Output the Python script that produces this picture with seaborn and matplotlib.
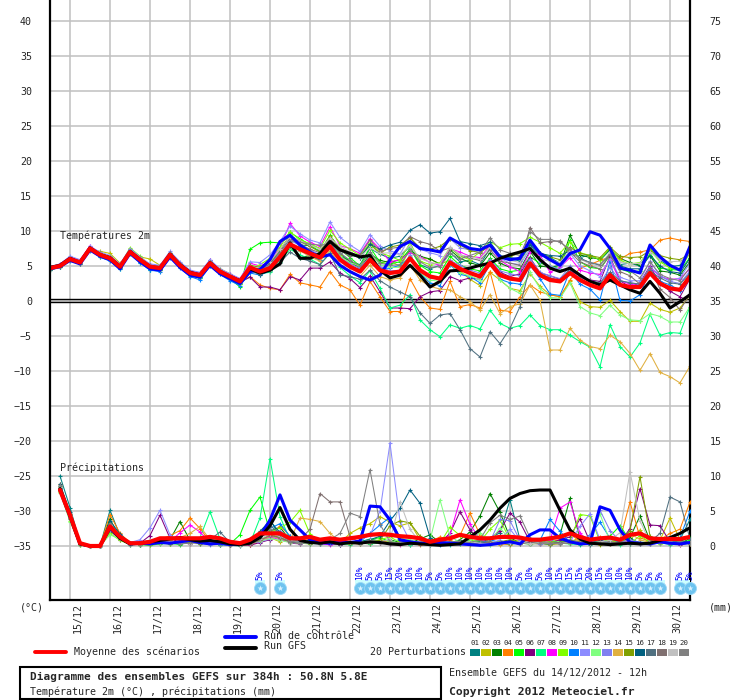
import numpy as np
import pandas as pd
import matplotlib
matplotlib.use("Agg")
import matplotlib.pyplot as plt
import seaborn as sns
from matplotlib.lines import Line2D
from matplotlib.patches import Rectangle
from matplotlib.transforms import ScaledTranslation

# ---------------- DATA ----------------
hours = list(range(0, 385, 6))          # forecast hours, 6-hourly (65 steps)
precip_hours = hours[1:]                 # accumulations valid at +6h ... +384h

day_hours = list(range(12, 373, 24))
day_labels = ['15/12', '16/12', '17/12', '18/12', '19/12', '20/12', '21/12', '22/12',
              '23/12', '24/12', '25/12', '26/12', '27/12', '28/12', '29/12', '30/12']

member_names = [f"{k:02d}" for k in range(1, 21)]
member_colors = ['#008080', '#c0c000', '#008000', '#ff8000', '#00ff00', '#800080', '#00ff80',
                 '#ff00ff', '#80ff00', '#0080ff', '#8c8cff', '#80ff80', '#8080f0', '#e0b040',
                 '#80a000', '#006080', '#507080', '#807070', '#c0c0c0', '#808080']

mean_temp = [4.7,5.0,6.0,5.5,7.5,6.6,6.1,4.9,7.0,5.9, 4.9,4.7,6.6,5.1,4.0,3.7,5.4,4.2,3.5,2.8,
             4.8,4.2,4.7,6.3,8.1,7.4,6.8,6.2,7.8,5.9, 4.9,4.2,5.9,4.4,4.0,4.2,6.1,4.4,3.5,3.2,
             5.5,4.6,4.0,3.5,5.4,3.7,3.2,3.0,5.4,3.7, 3.0,2.8,4.0,3.0,2.3,1.8,3.7,2.3,2.0,2.0,
             4.0,2.5,1.8,1.6,3.5]
control_temp = [4.6,4.9,5.8,5.3,7.3,6.4,5.9,4.6,6.8,5.6, 4.6,4.4,6.3,4.8,3.7,3.4,5.1,3.9,3.2,2.5,
                4.2,4.5,5.9,8.5,9.4,8.0,7.0,6.3,6.6,5.1, 4.2,3.5,3.0,3.7,5.9,7.8,8.5,7.5,7.3,7.0,
                9.0,8.2,7.5,7.3,8.0,6.3,5.9,6.1,8.7,6.8, 5.9,5.1,6.8,7.3,9.9,9.4,7.5,4.7,4.4,4.0,
                8.0,6.3,5.1,4.4,7.8]
gfs_temp = [4.8,5.1,6.1,5.5,7.6,6.6,6.2,4.9,7.1,5.9, 4.9,4.7,6.7,5.2,4.1,3.7,5.5,4.2,3.5,2.9,
            4.6,4.0,4.4,5.3,8.3,6.1,6.1,6.8,8.5,7.3, 6.8,6.3,6.5,4.4,3.3,3.7,5.1,3.7,2.0,2.8,
            4.3,4.4,4.7,5.1,5.4,6.1,6.6,7.0,7.5,5.9, 4.7,4.2,4.7,3.7,2.8,2.3,3.0,2.3,1.6,1.1,
            2.8,1.1,-1.0,-0.1,0.9]

t01 = [4.6,5.0,6.2,5.6,7.3,6.5,6.2,5.0,7.3,5.6, 4.5,4.8,6.9,5.2,3.8,3.3,5.9,4.0,3.1,2.5,
       4.9,4.5,5.3,7.2,9.3,8.0,7.9,7.1,9.0,6.8, 5.6,5.2,7.5,6.7,6.1,6.4,7.8,5.2,4.6,5.1,
       6.9,5.6,5.8,5.2,7.5,6.3,6.1,5.7,7.9,6.5, 6.2,5.4,6.8,6.2,6.6,5.8,7.3,5.2,5.4,5.0,
       7.6,5.8,4.9,5.1,6.9]
t02 = [4.8,5.2,5.9,5.3,7.4,7.1,6.8,5.4,6.8,6.3, 6.0,5.1,6.4,5.0,4.2,4.0,5.2,4.6,3.9,3.0,
       4.4,4.6,5.0,6.7,8.5,8.7,8.0,7.5,8.4,6.6, 5.3,5.0,6.5,5.4,5.8,4.9,7.3,6.1,6.0,5.2,
       5.9,4.3,3.1,2.2,4.1,3.0,1.8,1.5,3.9,2.1, 0.9,0.6,2.8,-0.1,-0.8,-0.9,0.1,-1.5,-2.9,-2.9,
       -0.3,-1.2,-1.6,-1.0,0.8]
t03 = [4.4,4.9,5.8,5.4,7.6,6.5,6.0,4.8,7.1,5.7, 4.8,4.4,6.4,4.9,3.9,3.5,5.2,4.3,3.6,2.9,
       4.6,4.4,4.5,6.0,8.0,6.2,6.5,5.8,8.2,6.4, 5.7,4.6,6.7,5.8,5.5,5.9,7.2,6.4,6.0,5.3,
       7.3,6.1,5.5,5.0,6.9,5.4,4.8,4.6,7.1,5.0, 4.8,5.1,9.4,6.6,6.2,6.0,7.4,6.1,5.5,5.1,
       6.5,4.3,4.1,3.7,5.6]
t04 = [4.6,4.8,5.9,5.5,7.3,6.4,5.9,4.7,6.8,5.7, 4.7,4.5,6.4,4.9,3.8,3.5,5.3,4.1,3.3,2.6,
       3.5,2.3,1.8,1.6,3.8,2.6,2.3,2.0,4.2,2.3, 1.6,-0.6,2.8,0.6,-1.5,-1.5,3.2,0.6,-1.0,-1.2,
       2.8,-0.8,-0.5,-1.0,4.2,-1.3,-1.5,0.6,2.3,1.3, 0.9,0.6,3.0,4.7,5.2,5.8,6.3,6.0,6.8,7.0,
       7.3,8.7,9.0,8.7,8.5]
t05 = [4.5,5.1,6.1,5.8,7.6,6.9,6.3,5.2,7.4,6.2, 5.1,5.0,6.8,5.4,4.1,3.9,5.1,4.4,3.2,2.0,
       7.4,8.3,8.4,8.3,9.8,8.9,8.0,7.0,9.4,7.4, 6.2,5.0,7.7,5.5,5.3,5.6,7.5,5.1,4.2,4.0,
       6.4,5.1,4.6,4.3,6.1,4.6,4.2,4.4,6.3,5.4, 5.0,4.6,8.7,5.6,4.8,4.6,6.5,4.6,4.1,4.3,
       6.8,4.7,4.5,4.4,6.2]
t06 = [4.8,5.1,6.0,5.4,7.6,6.7,6.2,5.0,6.9,6.0, 4.9,4.6,6.6,5.0,3.9,3.6,5.5,4.3,3.4,2.7,
       3.4,2.0,2.0,1.6,3.5,3.0,4.7,4.7,5.6,4.0, 3.2,1.9,3.6,1.3,-1.0,-1.0,-1.1,0.6,1.3,1.5,
       3.5,2.9,3.3,3.1,5.9,4.1,3.5,3.9,6.2,4.0, 3.6,3.1,4.3,3.6,3.0,2.8,6.4,2.9,2.0,2.6,
       5.0,2.5,1.4,0.6,3.2]
t07 = [4.6,4.9,5.8,5.4,7.3,6.3,5.8,4.6,6.7,5.5, 4.5,4.4,6.3,4.8,3.6,3.3,5.0,3.9,3.1,2.4,
       4.3,3.9,4.1,5.6,7.4,6.6,6.0,5.2,6.9,4.8, 3.6,2.6,4.3,1.8,-1.0,-0.6,0.9,-2.7,-4.1,-5.1,
       -3.4,-3.9,-3.5,-4.0,-1.3,-3.2,-3.9,-3.5,-2.0,-3.5, -4.1,-4.1,-4.9,-5.8,-6.6,-9.4,-3.4,-6.5,-8.0,-6.0,
       -1.9,-4.9,-4.5,-4.6,-0.8]
t08 = [4.8,5.3,6.3,5.8,7.9,6.8,6.3,5.2,7.4,6.1, 5.1,4.9,6.9,5.3,4.3,4.0,5.8,4.5,3.8,3.2,
       5.4,5.0,5.6,7.6,11.1,9.3,8.4,7.8,10.6,7.9, 7.5,6.8,8.9,7.4,5.6,5.9,6.9,6.3,5.5,5.1,
       7.5,7.0,6.4,6.2,7.9,5.8,4.9,4.2,7.0,6.6, 4.1,4.8,6.2,4.4,4.0,3.8,5.9,2.9,2.4,2.2,
       4.8,3.5,3.1,3.2,4.6]
t09 = [4.7,5.1,6.0,5.6,7.7,6.8,6.4,5.1,7.6,6.4, 5.0,4.8,6.5,4.9,3.8,3.5,5.7,4.2,3.3,2.5,
       4.5,5.2,6.1,7.7,9.9,8.7,8.2,7.5,10.1,8.3, 7.4,6.5,8.3,6.9,6.4,5.8,8.3,5.7,5.2,5.5,
       7.6,6.4,5.9,7.0,8.5,7.6,8.1,8.2,9.1,8.4, 7.6,6.8,8.5,6.9,6.5,5.9,7.6,5.8,5.3,5.5,
       7.3,5.6,4.7,4.5,6.9]
t10 = [4.5,4.8,5.7,5.3,7.2,6.3,5.7,4.6,6.8,5.5, 4.4,4.2,6.2,4.7,3.5,3.0,5.0,3.8,2.9,2.2,
       4.0,3.7,4.3,5.9,8.2,7.2,6.5,5.9,8.6,6.1, 5.0,4.5,6.2,4.6,4.7,5.1,6.3,4.0,2.6,2.2,
       5.2,3.8,3.5,2.6,5.3,3.1,2.6,2.4,5.1,3.2, 1.0,0.8,4.3,2.4,1.7,0.2,5.7,0.1,0.0,0.9,
       4.4,2.8,2.3,1.5,4.0]
t11 = [4.9,5.3,6.4,5.9,7.8,7.0,6.5,5.3,7.5,6.3, 5.3,5.1,7.1,5.6,4.4,4.1,5.9,4.6,3.9,3.2,
       5.6,5.5,6.6,8.5,10.7,9.6,8.7,8.3,11.3,9.1, 8.0,7.1,9.5,7.8,7.2,6.7,9.1,7.4,6.9,6.5,
       8.9,7.6,7.3,6.9,8.0,6.1,5.4,5.2,7.4,5.6, 5.0,4.5,6.8,5.0,4.3,3.5,6.0,3.4,2.9,2.9,
       5.7,3.6,2.9,3.3,5.4]
t12 = [4.7,5.0,5.9,5.4,7.4,6.4,6.0,4.8,6.9,5.8, 4.8,4.5,6.5,5.0,3.9,3.6,5.4,4.1,3.3,2.6,
       4.7,4.1,4.3,5.8,7.6,7.4,6.9,6.2,8.8,6.4, 5.5,5.0,6.9,5.2,4.8,4.8,6.4,4.0,3.0,2.8,
       5.3,4.0,3.6,3.0,5.6,3.0,1.8,1.1,4.1,1.8, 0.5,0.4,2.6,-0.8,-1.7,-2.1,-0.6,-2.0,-2.7,-2.8,
       -1.8,-2.2,-3.0,-3.0,-0.8]
t13 = [4.6,5.2,6.1,5.7,7.5,6.7,6.1,5.0,7.1,5.9, 4.9,4.8,6.7,5.2,4.1,3.8,5.5,4.3,3.6,2.9,
       5.0,4.6,5.1,6.8,8.7,7.9,7.3,6.6,8.5,6.2, 5.3,4.7,6.4,4.9,4.3,4.4,6.6,4.3,3.5,3.0,
       5.8,5.1,4.4,4.0,5.9,4.3,3.9,3.6,6.0,4.1, 3.6,3.2,5.0,3.3,2.9,2.5,4.8,2.9,2.6,2.4,
       4.9,3.6,2.8,2.5,4.3]
t14 = [4.6,5.0,5.9,5.5,7.3,6.5,6.0,4.8,6.9,5.8, 4.8,4.6,6.5,5.0,3.9,3.6,5.3,4.1,3.4,2.7,
       4.4,4.0,4.6,6.1,7.9,7.2,6.3,5.7,7.2,5.2, 4.3,3.5,5.1,3.5,3.0,3.3,5.2,3.0,2.1,1.7,
       1.6,0.6,-0.1,-1.3,0.9,-1.8,-0.8,-0.4,2.3,0.1, -7.0,-7.0,-3.9,-5.6,-6.5,-6.8,-4.9,-5.8,-7.5,-9.9,
       -7.5,-10.2,-10.8,-11.7,-9.3]
t15 = [4.8,5.1,6.1,5.7,7.6,6.8,6.3,5.0,7.2,6.1, 5.0,4.8,6.8,5.2,4.1,3.8,5.6,4.4,3.6,2.9,
       5.1,4.8,5.5,7.3,9.4,8.5,7.8,7.0,9.3,7.5, 7.0,6.1,8.1,6.8,7.7,8.0,9.0,7.6,7.4,7.8,
       8.9,8.0,7.2,6.9,7.9,6.1,6.4,6.8,8.2,6.9, 6.3,5.9,7.7,6.8,6.5,6.2,7.7,6.4,6.2,6.3,
       7.2,6.5,6.1,5.9,6.8]
t16 = [4.7,5.0,6.0,5.6,7.4,6.6,6.1,4.9,7.1,5.9, 4.8,4.6,6.6,5.1,4.0,3.7,5.4,4.2,3.5,2.8,
       4.6,3.7,4.4,6.0,7.8,7.7,6.9,6.5,8.3,7.2, 6.6,6.2,8.1,7.4,8.0,8.4,10.1,10.9,9.7,9.9,
       11.8,8.5,8.2,7.9,8.4,6.5,6.2,6.0,8.0,6.8, 6.5,6.4,7.2,6.1,5.5,5.1,6.7,5.0,4.6,4.6,
       6.5,5.0,4.2,4.0,6.1]
t17 = [4.5,4.9,5.9,5.3,7.3,6.4,5.9,4.7,6.8,5.7, 4.7,4.4,6.4,4.9,3.8,3.5,5.2,4.0,3.3,2.6,
       4.3,3.8,4.5,5.5,7.0,6.1,5.7,5.2,6.8,3.7, 3.5,3.1,4.4,2.9,2.0,1.3,0.6,-1.7,-3.2,-2.0,
       -1.8,-4.1,-6.8,-8.0,-4.4,-6.1,-3.9,-0.8,5.0,3.9, 3.3,3.0,4.6,3.6,2.9,2.6,4.1,2.9,2.6,2.4,
       4.3,3.3,2.6,2.4,4.0]
t18 = [4.7,5.2,6.1,5.6,7.6,6.8,6.2,5.1,7.2,6.0, 5.1,4.9,6.8,5.3,4.2,3.9,5.6,4.4,3.7,3.0,
       5.0,4.5,5.3,7.0,8.9,8.1,7.4,6.9,8.9,7.2, 6.4,6.6,8.7,7.1,7.5,7.7,9.2,8.5,8.1,7.1,
       7.6,6.6,6.1,5.8,7.3,5.7,5.4,5.1,10.5,8.3, 8.5,8.6,7.0,5.6,5.0,4.6,6.6,4.2,3.6,2.4,
       4.7,1.7,0.5,-1.3,1.0]
t19 = [4.8,5.1,6.1,5.6,7.6,6.7,6.2,5.0,7.1,6.0, 5.0,4.8,6.7,5.2,4.1,3.8,5.5,4.3,3.6,2.9,
       4.9,4.7,5.6,7.4,9.2,8.6,8.0,7.4,9.0,7.8, 7.0,6.3,7.6,6.8,6.9,6.6,7.9,6.1,5.5,5.3,
       7.7,6.6,6.3,6.0,7.7,6.2,5.8,5.5,7.6,6.0, 5.7,5.5,7.2,6.0,5.3,5.0,7.0,5.6,5.3,5.4,
       7.0,5.9,5.6,5.7,6.8]
t20 = [4.6,5.0,6.0,5.5,7.5,6.6,6.0,4.9,7.2,5.8, 4.8,4.7,6.5,5.1,4.0,3.7,5.3,4.2,3.5,2.8,
       4.8,4.3,5.0,6.7,8.5,8.4,8.1,8.0,8.1,6.9, 5.8,5.0,7.0,5.4,5.1,5.2,7.3,5.6,4.8,4.9,
       6.8,6.0,6.5,7.0,9.0,7.3,6.8,6.5,9.9,8.8, 8.8,8.4,7.4,6.0,5.5,5.2,6.7,4.6,4.3,3.3,
       5.6,3.8,3.2,2.9,4.8]

mean_precip = [8.0,4.4,0.4,0.0,0.0,2.8,1.3,0.4,0.4,0.6, 1.1,1.1,1.1,1.1,1.1,1.3,1.1,0.6,0.4,0.9,
               1.8,1.8,1.8,1.1,1.1,1.3,0.9,1.1,0.9,1.1, 1.3,1.6,1.7,1.6,1.4,1.3,1.1,0.6,0.9,1.1,
               1.6,1.3,1.1,1.1,1.3,1.3,1.2,0.9,0.9,1.1, 1.3,1.8,1.3,0.9,1.1,1.2,0.9,1.6,1.8,1.1,
               1.0,1.0,1.0,1.3]
control_precip = [8.0,4.2,0.3,0.0,0.0,2.6,1.2,0.3,0.4,0.3, 0.5,0.4,0.6,0.8,0.5,0.3,0.4,0.2,0.3,0.5,
                  1.4,3.7,7.3,3.7,2.3,0.9,0.5,0.4,0.6,0.5, 0.7,5.7,5.6,3.7,0.9,0.6,0.4,0.3,0.5,0.4,
                  0.3,0.2,0.1,0.2,0.4,0.6,0.3,1.6,2.3,2.3, 1.1,0.6,0.3,0.4,5.6,5.1,2.3,0.5,0.4,0.3,
                  0.6,0.4,0.3,0.5]
gfs_precip = [8.2,4.3,0.3,0.0,0.0,2.7,1.1,0.3,0.4,0.6, 0.8,1.0,1.2,0.9,0.7,0.8,0.6,0.3,0.2,0.4,
              1.2,2.9,5.5,2.4,0.8,0.5,0.4,0.6,0.3,0.5, 0.4,0.6,0.5,0.3,0.2,0.4,0.3,0.2,0.1,0.2,
              0.3,1.3,2.3,3.7,5.4,6.8,7.5,7.9,8.0,8.0, 5.1,2.3,1.0,0.4,0.3,0.2,0.3,0.4,0.3,0.4,
              0.8,1.2,1.8,2.6]

r01 = [10.0,5.5,0.5,0.0,0.0,5.1,1.5,0.3,0.2,0.3, 0.5,0.3,0.8,0.4,0.6,0.3,0.2,0.1,0.0,0.3,
       1.8,3.8,1.3,0.5,0.4,0.9,0.6,0.3,0.2,0.5, 0.6,1.0,0.7,0.4,0.8,0.3,0.5,0.2,0.4,0.3,
       0.6,0.8,0.4,1.1,1.9,6.6,0.9,0.3,0.4,0.2, 0.5,0.9,0.3,0.2,0.6,0.4,0.3,1.1,0.4,0.3,
       0.5,0.6,0.9,3.8]
r02 = [8.6,4.2,0.3,0.0,0.0,2.4,1.2,0.4,0.3,0.5, 0.8,0.6,0.3,0.5,0.9,0.4,0.2,0.4,0.1,0.2,
       0.8,1.2,0.6,1.4,0.9,0.5,0.3,0.6,0.4,1.8, 2.6,3.2,4.2,3.4,2.9,3.3,0.9,0.5,0.3,0.6,
       0.4,0.2,0.5,0.3,0.2,0.6,0.8,0.3,0.4,0.2, 0.3,0.5,1.3,0.4,0.2,0.3,0.6,0.9,2.3,0.5,
       0.8,4.0,0.9,0.4]
r03 = [8.3,4.0,0.2,0.0,0.0,3.9,1.0,0.2,0.3,0.4, 0.6,0.9,3.5,0.8,0.4,0.5,0.3,0.2,0.1,0.4,
       1.2,2.1,2.7,0.8,0.6,0.4,0.9,0.5,0.3,0.6, 0.4,0.3,0.6,0.9,0.5,0.4,1.0,1.6,0.5,0.4,
       0.9,2.0,4.3,7.5,4.8,1.2,0.4,0.3,0.5,0.8, 1.6,6.8,0.9,0.5,0.3,0.4,0.6,1.2,4.3,0.8,
       0.4,0.6,0.3,1.1]
r04 = [8.8,4.6,0.3,0.0,0.0,4.5,1.8,0.5,0.2,0.3, 0.9,1.5,2.2,4.0,2.5,0.6,0.3,0.2,0.1,0.2,
       0.6,1.0,2.9,1.4,0.8,1.1,0.5,0.3,0.6,0.4, 0.3,0.6,0.8,0.5,0.4,0.3,0.2,0.6,1.3,0.9,
       1.5,4.7,1.6,0.4,0.3,0.2,0.5,0.4,0.3,0.6, 0.9,1.8,0.6,0.4,1.3,0.5,0.9,6.3,1.2,0.6,
       0.9,1.8,2.4,6.3]
r05 = [7.9,3.8,0.2,0.0,0.0,2.0,1.4,0.4,0.2,0.1, 0.3,0.4,0.2,0.6,0.3,0.7,0.9,0.3,1.6,5.1,
       7.0,2.0,0.9,0.6,0.4,0.5,0.3,0.8,0.5,0.3, 0.6,0.9,1.2,0.6,0.4,0.3,0.5,0.9,0.7,0.4,
       0.3,0.6,0.8,0.5,0.4,0.3,0.6,0.9,0.4,0.3, 0.6,0.4,0.3,0.5,0.7,1.4,2.9,0.8,0.5,0.4,
       0.6,0.3,0.4,0.8]
r06 = [8.1,4.1,0.3,0.0,0.0,2.2,0.9,0.3,0.4,1.5, 4.4,1.1,0.5,0.3,0.6,0.4,0.3,0.2,0.2,0.1,
       0.5,0.9,1.6,0.4,0.3,0.6,0.4,0.3,0.2,0.5, 0.4,0.7,0.5,0.3,0.6,0.2,0.3,0.9,0.5,1.8,
       4.9,2.3,0.8,1.0,2.2,4.7,3.4,0.6,0.3,0.4, 0.9,1.3,3.9,0.6,0.4,0.3,0.5,2.5,8.2,3.0,
       2.9,0.6,0.2,0.4]
r07 = [8.4,4.3,0.3,0.0,0.0,2.6,1.1,0.3,0.2,0.4, 0.5,0.3,0.6,0.8,1.2,4.9,1.0,0.3,0.2,0.4,
       4.0,12.5,4.2,0.9,0.5,0.3,0.6,0.4,0.3,0.2, 0.5,0.3,0.4,0.6,0.3,0.2,0.4,0.5,0.3,0.2,
       0.4,0.6,0.3,0.2,0.5,0.3,0.4,0.3,0.6,0.9, 0.4,0.3,0.2,0.4,0.6,0.3,0.2,0.5,0.4,0.3,
       0.5,0.2,0.4,0.3]
r08 = [8.0,3.9,0.2,0.0,0.0,3.1,1.3,0.4,0.6,0.3, 0.4,0.6,1.9,3.0,2.0,0.5,0.3,0.2,0.1,0.3,
       0.7,1.3,0.9,0.5,0.4,0.6,0.3,0.2,0.5,0.3, 0.4,0.6,0.5,0.3,0.2,0.4,0.6,0.3,0.5,1.6,
       6.6,3.1,0.9,0.4,0.3,0.5,0.4,0.6,0.3,0.8, 5.4,6.3,1.8,0.6,0.4,0.3,0.5,0.8,0.4,0.3,
       0.5,0.4,0.6,0.3]
r09 = [7.7,3.6,0.2,0.0,0.0,1.8,0.8,0.2,0.3,0.2, 0.4,0.3,0.5,0.7,0.4,0.3,0.2,0.4,0.2,0.6,
       1.5,1.9,2.6,3.4,5.1,1.7,0.6,0.4,0.3,0.5, 0.3,0.6,0.9,1.3,0.5,0.4,0.6,0.3,0.4,2.7,
       1.5,0.8,0.6,2.4,3.7,0.9,0.5,0.4,0.3,0.6, 0.4,0.8,4.5,4.3,0.6,0.9,0.4,0.3,1.5,0.5,
       0.3,0.4,0.6,0.5]
r10 = [8.2,4.4,0.4,0.0,0.0,2.9,1.6,0.3,0.2,0.4, 0.6,0.4,0.3,0.9,0.5,0.3,0.2,0.3,0.3,0.5,
       1.1,2.5,3.2,1.4,0.6,0.4,0.3,0.7,0.9,0.4, 0.6,1.8,3.0,4.1,1.2,0.5,0.3,0.4,0.2,0.3,
       0.6,0.4,0.3,0.9,0.5,0.4,0.6,0.3,0.8,3.8, 2.1,0.5,0.4,1.6,3.4,1.1,0.5,0.4,0.3,0.7,
       0.4,0.3,1.2,5.0]
r11 = [8.0,4.0,0.3,0.0,0.0,2.3,1.2,0.5,0.9,2.6, 5.1,1.6,0.6,0.4,0.3,0.2,0.5,0.3,0.2,0.4,
       0.6,1.0,1.4,0.9,0.5,0.4,0.6,0.3,0.5,0.4, 0.9,1.5,5.0,14.7,3.5,0.7,0.4,0.3,0.5,0.3,
       0.4,0.6,0.5,0.3,0.9,2.4,0.6,0.4,0.3,0.5, 0.3,0.6,2.8,4.6,0.9,0.4,0.6,0.8,0.5,0.3,
       0.4,0.6,0.3,0.5]
r12 = [7.6,3.5,0.2,0.0,0.0,1.6,1.0,0.3,0.2,0.3, 0.4,0.3,0.6,0.4,0.9,0.5,0.3,0.2,0.3,0.4,
       0.7,1.1,0.8,0.5,0.4,0.6,0.3,0.5,0.4,0.3, 0.5,0.4,0.6,0.3,1.1,0.9,0.4,0.8,6.6,1.4,
       0.5,0.7,1.9,0.6,2.6,0.9,0.4,0.3,0.5,0.6, 0.4,0.3,0.5,0.8,4.6,0.6,0.4,0.3,0.5,0.7,
       0.4,0.6,0.3,0.4]
r13 = [8.3,4.2,0.3,0.0,0.0,2.5,1.1,0.2,0.4,0.3, 0.5,0.4,0.7,0.6,1.1,0.8,0.4,0.3,0.2,0.3,
       1.4,1.8,2.2,0.9,0.7,0.5,0.4,0.6,0.3,0.5, 0.4,0.7,0.6,0.3,0.5,0.4,0.6,0.3,0.4,0.5,
       0.7,0.4,0.3,0.6,3.8,3.6,0.8,0.4,0.3,0.5, 0.4,0.9,0.6,1.5,5.1,2.2,0.7,0.4,0.3,0.5,
       0.4,0.3,0.6,0.4]
r14 = [8.4,4.4,0.3,0.0,0.0,3.3,1.5,0.4,0.3,0.4, 0.6,0.8,1.2,1.8,2.8,0.9,0.4,0.3,0.2,0.3,
       0.8,1.4,1.1,0.7,4.0,3.8,3.5,1.8,0.6,0.4, 0.3,0.5,0.4,0.6,0.3,0.5,0.4,0.3,0.6,0.4,
       0.5,0.3,0.4,0.6,0.3,0.5,0.4,0.9,0.6,0.4, 0.3,0.5,0.8,0.4,0.6,0.3,0.4,1.8,0.9,0.5,
       1.2,0.4,0.3,0.6]
r15 = [8.1,4.0,0.3,0.0,0.0,2.7,1.3,0.3,0.2,0.3, 0.5,0.3,0.4,0.6,0.3,0.5,0.4,0.2,0.3,0.5,
       0.9,1.6,1.2,0.6,0.4,0.3,0.5,0.7,0.4,0.3, 0.6,0.5,0.8,2.9,3.6,3.3,1.4,0.5,0.3,0.4,
       0.6,0.5,0.3,0.4,0.6,0.9,0.5,0.3,0.4,0.6, 0.5,0.8,0.6,0.4,0.5,0.3,0.6,2.2,9.9,1.4,
       0.6,0.4,0.5,0.3]
r16 = [8.9,4.8,0.5,0.0,0.0,3.6,1.7,0.4,0.3,0.5, 0.6,0.4,0.5,0.8,0.4,0.3,0.5,0.2,0.3,0.6,
       2.1,3.6,1.9,0.8,0.5,0.4,0.6,0.3,0.5,0.4, 0.6,0.9,1.4,3.6,5.4,8.0,6.1,1.2,0.4,0.3,
       0.5,0.4,0.6,0.3,0.4,0.5,0.3,0.6,0.4,0.3, 0.4,0.6,0.3,0.5,0.8,0.4,0.6,0.3,0.5,0.4,
       0.6,0.4,0.8,0.5]
r17 = [8.6,4.5,0.4,0.0,0.0,2.8,1.4,0.3,0.5,0.4, 0.6,0.5,0.4,0.7,0.5,0.9,2.0,0.5,0.3,0.4,
       1.3,2.9,1.8,0.6,0.4,0.5,0.3,0.6,0.4,0.5, 0.3,0.6,0.4,0.5,0.3,0.6,0.4,0.3,0.5,0.6,
       0.4,0.3,0.5,0.6,0.4,0.3,0.5,0.4,0.6,0.3, 0.5,0.4,0.6,0.3,0.5,0.6,0.4,0.5,0.3,0.6,
       1.8,7.0,6.3,1.0]
r18 = [8.2,4.1,0.3,0.0,0.0,2.4,1.0,0.3,0.4,0.3, 0.5,0.4,0.6,0.3,0.5,0.4,0.3,0.2,0.4,0.3,
       0.8,1.5,1.2,0.6,0.9,2.4,7.5,6.3,6.3,1.3, 0.5,0.4,0.6,0.3,0.5,0.4,0.6,0.3,0.4,0.5,
       0.6,0.4,0.3,0.5,0.4,0.6,0.3,0.5,0.4,0.3, 0.5,0.4,0.6,0.3,0.5,0.4,0.6,0.5,0.3,0.4,
       0.6,0.3,0.4,0.5]
r19 = [8.5,4.3,0.4,0.0,0.0,3.0,1.2,0.4,0.3,0.5, 0.4,0.6,0.5,0.3,0.6,0.4,0.3,0.5,0.2,0.4,
       1.0,1.7,1.4,0.8,0.5,0.4,0.6,0.5,0.3,0.6, 0.5,0.8,0.6,0.9,6.3,2.4,0.5,0.3,0.6,0.4,
       0.5,0.6,0.4,0.3,0.5,0.4,0.6,0.3,0.5,0.4, 0.3,0.6,0.5,0.4,0.6,0.8,1.9,10.6,3.6,0.5,
       0.4,0.6,0.3,0.5]
r20 = [8.7,4.6,0.4,0.0,0.0,3.2,1.5,0.3,0.2,0.4, 0.6,0.5,0.3,0.4,0.6,0.5,0.3,0.2,0.4,0.6,
       1.2,2.4,1.6,0.7,0.5,0.6,0.4,0.9,1.8,4.7, 4.2,10.9,3.1,0.6,0.4,0.5,0.3,0.6,0.4,0.5,
       0.6,0.5,0.9,3.3,4.4,3.8,4.3,1.2,0.5,0.4, 0.3,0.5,0.4,0.6,0.5,0.3,0.4,0.6,0.5,0.3,
       0.4,0.5,0.6,0.4]

snow_hours = [126, 138] + list(range(186, 367, 6)) + [378, 384]
snow_pct = [5, 5,
            10, 5, 5, 15, 20, 10, 10, 5, 5, 10, 10, 10, 10, 10, 10, 10, 5, 10, 5, 10,
            15, 15, 15, 20, 15, 10, 10, 10, 5, 5, 5,
            5, 5]

member_temps = [t01, t02, t03, t04, t05, t06, t07, t08, t09, t10,
                t11, t12, t13, t14, t15, t16, t17, t18, t19, t20]
member_precips = [r01, r02, r03, r04, r05, r06, r07, r08, r09, r10,
                  r11, r12, r13, r14, r15, r16, r17, r18, r19, r20]

# ---------------- STYLE / LAYOUT ----------------
sns.set_style("white")
plt.rcParams['font.family'] = ['DejaVu Sans Mono']
MONO = 'DejaVu Sans Mono'
W, H = 740, 700

fig = plt.figure(figsize=(W / 100, H / 100), dpi=100)
ax = fig.add_axes([50 / W, 100 / H, 640 / W, 600 / H])

Y_TOP = 301 / 7.0
Y_BOT = (301 - 600) / 7.0
ax.set_xlim(0, 384)
ax.set_ylim(Y_BOT, Y_TOP)

GRID = '#c0c0c0'
ax.set_yticks(list(range(-35, 41, 5)))
ax.set_xticks(day_hours)
ax.grid(True, color=GRID, lw=1.1)
ax.set_axisbelow(True)
for s in ['left', 'right', 'bottom']:
    ax.spines[s].set_color('black')
    ax.spines[s].set_linewidth(1.6)
ax.spines['top'].set_visible(False)

palette = dict(zip(member_names, member_colors))

# temperature members
df_t = pd.DataFrame({
    'hour': np.tile(hours, len(member_names)),
    'temp': np.concatenate([np.asarray(v, float) for v in member_temps]),
    'member': np.repeat(member_names, len(hours)),
})
n0 = len(ax.lines)
sns.lineplot(data=df_t, x='hour', y='temp', hue='member', hue_order=member_names,
             palette=palette, estimator=None, sort=False, lw=0.75, marker='+',
             markersize=3.5, legend=False, ax=ax)
for ln in ax.lines[n0:]:
    ln.set_markeredgecolor(ln.get_color())
    ln.set_markeredgewidth(0.8)

ax.axhline(0.28, color='black', lw=1.0, zorder=1.7)
ax.axhline(-0.2, color='black', lw=1.0, zorder=1.7)

sns.lineplot(x=hours, y=control_temp, color='#0000ff', lw=2.2, ax=ax)
sns.lineplot(x=hours, y=gfs_temp, color='#000000', lw=2.2, ax=ax)
sns.lineplot(x=hours, y=mean_temp, color='#ff0000', lw=3.0, ax=ax)

# precipitation on the right-hand scale (mm = °C + 35)
ax2 = ax.twinx()
ax2.set_ylim(Y_BOT + 35, Y_TOP + 35)
ax2.set_yticks(list(range(0, 76, 5)))
for s in ax2.spines.values():
    s.set_visible(False)

df_p = pd.DataFrame({
    'hour': np.tile(precip_hours, len(member_names)),
    'pr': np.concatenate([np.asarray(v, float) for v in member_precips]),
    'member': np.repeat(member_names, len(precip_hours)),
})
n0 = len(ax2.lines)
sns.lineplot(data=df_p, x='hour', y='pr', hue='member', hue_order=member_names,
             palette=palette, estimator=None, sort=False, lw=0.75, marker='+',
             markersize=3.5, legend=False, ax=ax2)
for ln in ax2.lines[n0:]:
    ln.set_markeredgecolor(ln.get_color())
    ln.set_markeredgewidth(0.8)
sns.lineplot(x=precip_hours, y=control_precip, color='#0000ff', lw=2.2, ax=ax2)
sns.lineplot(x=precip_hours, y=gfs_precip, color='#000000', lw=2.2, ax=ax2)
sns.lineplot(x=precip_hours, y=mean_precip, color='#ff0000', lw=3.0, ax=ax2)
ax2.set_xlim(0, 384)
ax2.set_ylabel('')
ax.set_xlabel('')
ax.set_ylabel('')

# ticks
ax.tick_params(axis='y', length=0, pad=13, labelsize=7.2)
ax2.tick_params(axis='y', length=0, pad=14, labelsize=7.2)
ax.set_xticklabels(day_labels, rotation=90, fontsize=7.2, va='top', ha='center')
ax.tick_params(axis='x', length=0, pad=2)
off = ScaledTranslation(7.5 / 100, 0, fig.dpi_scale_trans)
for lab in ax.get_xticklabels():
    lab.set_transform(lab.get_transform() + off)

# in-plot labels
ax.text(6, (301 - 236) / 7.0, 'Températures 2m', fontsize=7.2, va='center', ha='left', family=MONO)
ax.text(6, (301 - 468) / 7.0, 'Précipitations', fontsize=7.2, va='center', ha='left', family=MONO)

# snow probability icons
SNOW_Y = (301 - 588) / 7.0
BAND_B = (301 - 583.5) / 7.0
BAND_H = 3.5 / 7.0
ax.bar(snow_hours, [BAND_H] * len(snow_hours), bottom=BAND_B, width=6,
       color='#ccffff', lw=0, zorder=3)
ax.scatter(snow_hours, [SNOW_Y] * len(snow_hours), s=75, color='#6ec3ef',
           edgecolor='#9ad8f7', lw=0.6, zorder=4, clip_on=False)
ax.scatter(snow_hours, [SNOW_Y] * len(snow_hours), s=20, marker='*', color='#d8f2ff',
           lw=0, zorder=5, clip_on=False)
for h, p in zip(snow_hours, snow_pct):
    ax.text(h, BAND_B + BAND_H, f"{p}%", rotation=90, ha='center', va='bottom',
            color='#0000ff', fontsize=5.8, family=MONO, zorder=6)


# ---------------- LEGEND / FOOTER (figure pixel coords) ----------------
def fx(x):
    return x / W


def fy(y):
    return 1 - y / H


fig.text(fx(20), fy(607), '(°C)', fontsize=7.2, va='center', ha='left', family=MONO)
fig.text(fx(709), fy(607), '(mm)', fontsize=7.2, va='center', ha='left', family=MONO)

fig.add_artist(Line2D([fx(35), fx(66)], [fy(652), fy(652)], color='#ff0000', lw=2.8))
fig.text(fx(74), fy(652), 'Moyenne des scénarios', fontsize=7.2, va='center', ha='left', family=MONO)
fig.add_artist(Line2D([fx(225), fx(256)], [fy(637), fy(637)], color='#0000ff', lw=2.8))
fig.text(fx(264), fy(636), 'Run de contrôle', fontsize=7.2, va='center', ha='left', family=MONO)
fig.add_artist(Line2D([fx(225), fx(256)], [fy(648), fy(648)], color='#000000', lw=2.8))
fig.text(fx(264), fy(646), 'Run GFS', fontsize=7.2, va='center', ha='left', family=MONO)
fig.text(fx(466), fy(652), '20 Perturbations', fontsize=7.2, va='center', ha='right', family=MONO)
for k, (name, col) in enumerate(zip(member_names, member_colors)):
    x0 = 470 + 11 * k
    fig.add_artist(Rectangle((fx(x0), fy(656)), 10 / W, 7 / H, transform=fig.transFigure,
                             facecolor=col, edgecolor='none'))
    fig.text(fx(x0 + 5), fy(643), name, fontsize=5.3, va='center', ha='center', family=MONO)

fig.add_artist(Rectangle((fx(20), fy(699)), 421 / W, 32 / H, transform=fig.transFigure,
                         facecolor='none', edgecolor='black', lw=1.5))
fig.text(fx(30), fy(677), 'Diagramme des ensembles GEFS sur 384h : 50.8N 5.8E',
         fontsize=8.0, fontweight='bold', va='center', ha='left', family=MONO)
fig.text(fx(30), fy(692), 'Température 2m (°C) , précipitations (mm)',
         fontsize=7.2, va='center', ha='left', family=MONO)
fig.text(fx(449), fy(673), 'Ensemble GEFS du 14/12/2012 - 12h',
         fontsize=7.2, va='center', ha='left', family=MONO)
fig.text(fx(449), fy(692), 'Copyright 2012 Meteociel.fr',
         fontsize=8.2, fontweight='bold', va='center', ha='left', family=MONO)

fig.savefig('out.png', dpi=100)
